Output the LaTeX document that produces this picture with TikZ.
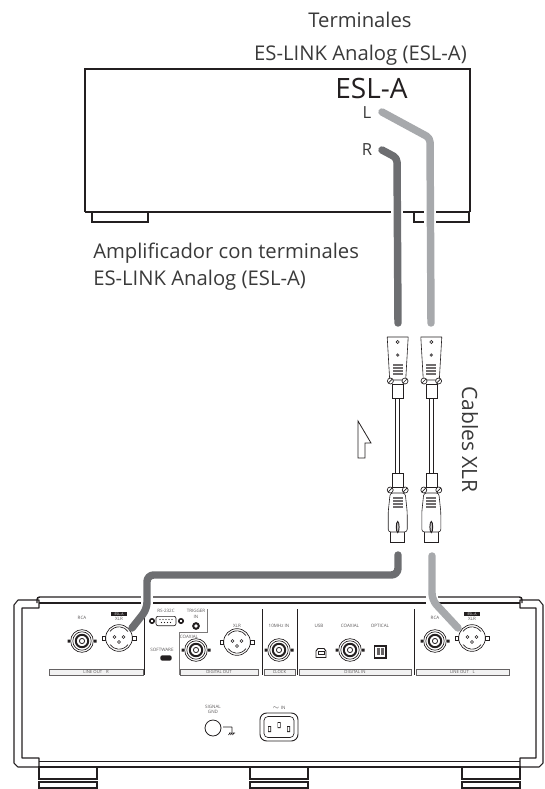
\documentclass[tikz,border=0pt]{standalone}
\usepackage{fontspec}
\setmainfont{Open Sans}
\definecolor{ink}{HTML}{231F20}
\definecolor{txt}{HTML}{3A3A3A}
\definecolor{cabledark}{HTML}{6D6E71}
\definecolor{cablelight}{HTML}{A7A9AC}
\tikzset{
  paneltext/.style={inner sep=0pt,text=ink!75,font=\fontsize{3.4}{4}\selectfont},
  bigtext/.style={inner sep=0pt,anchor=base,text=txt,font=\fontsize{15.2}{18}\selectfont},
  cable/.style={line width=5.6pt,line cap=round,line join=round,rounded corners=3pt},
  halo/.style={line width=8.4pt,white},
  line/.style={draw=ink,line width=0.45pt},
  heavy/.style={draw=ink,line width=1.1pt},
  stripbox/.style={draw=ink!70,line width=0.4pt,fill=ink!6,inner sep=0pt,minimum height=4.2pt,text=ink!75,font=\fontsize{3.2}{4}\selectfont}
}
\newcommand{\coaxjack}[3]{\node[circle,draw=ink,line width=0.5pt,minimum size=17pt,inner sep=0pt] (#3) at (#1,#2) {};
\draw[ink,line width=0.5pt] (#1,#2) circle (9.2);
\draw[ink,line width=1.5pt] (#1,#2) circle (6.2);
\draw[ink,line width=0.6pt] (#1,#2) circle (2.6);
\fill[ink] (#1-14.5,#2-1.5) rectangle (#1-12,#2+1.5) (#1+12,#2-1.5) rectangle (#1+14.5,#2+1.5);}
\newcommand{\xlrjack}[3]{\node[circle,draw=ink,line width=0.5pt,minimum size=20pt,inner sep=0pt] (#3) at (#1,#2) {};
\draw[ink,line width=0.5pt] (#1-9,#2-6.5) arc (215:325:11) (#1+9,#2+6.5) arc (35:145:11);
\draw[ink,line width=0.5pt] (#1-13.5,#2-2) rectangle (#1-17,#2+2) (#1+13.5,#2-2) rectangle (#1+17,#2+2);
\draw[ink,line width=0.5pt] (#1-4.5,#2-1) circle (1.5) (#1+4.5,#2-1) circle (1.5) (#1,#2+4) circle (1.5);}
\newcommand{\esltag}[2]{\node[fill=ink,text=white,inner sep=0pt,minimum width=12.5pt,minimum height=3pt,font=\fontsize{2.6}{3}\selectfont] (#2) at (#1,614) {ESL-A};}
\newcommand{\louvre}[1]{\fill[ink!65] (-5,#1) rectangle (5,#1+11);
\draw[white,line width=0.45pt] (-5,#1+2.5) -- (5,#1+2.5) (-5,#1+5.5) -- (5,#1+5.5) (-5,#1+8.5) -- (5,#1+8.5);}
\newcommand{\screw}[2]{\draw[ink,fill=white,line width=0.5pt] (#1,#2) circle (3);\draw[ink,line width=0.5pt] (#1-2,#2+2) -- (#1+2,#2-2);}
\newcommand{\xlrlead}[1]{\begin{scope}[shift={(#1,0)}]
% upper plug
\draw[line,line join=round] (-10.5,337) -- (10.5,337) -- (8,380) -- (-8,380) -- cycle;
\draw[line] (0,342) circle (1.6);
\fill[ink!75] (0,355) circle (1.8);
\louvre{364}
\draw[line] (-5.5,384) rectangle (5.5,398);
\screw{-7.3}{381}\screw{7.3}{381}
% lead
\draw[line,fill=white] (-2,398) rectangle (2,473);
% lower plug
\draw[line] (-5.5,473) rectangle (5.5,487);
\draw[line,fill=white] (-7,532) -- (-7,542) -- (7,542) -- (7,532);
\draw[line,fill=white,rounded corners=2pt] (-7.5,493) -- (-9.5,512) -- (-9.5,532) -- (9.5,532) -- (9.5,512) -- (7.5,493) -- cycle;
\louvre{497}
\screw{-7.5}{490}\screw{7.5}{490}
\draw[ink,fill=ink!25,line width=0.7pt] (0,527) ellipse (1.4 and 5.5);
\end{scope}}
\begin{document}
\begin{tikzpicture}[x=0.75pt,y=-0.75pt]
\useasboundingbox (0,0) rectangle (544,789);
% captions
\node[bigtext] (captop) at (360,27) {Terminales};
\node[bigtext] (capesl) at (360.5,60) {ES-LINK Analog (ESL-A)};
\node[bigtext,anchor=base west] (capamp) at (93,258) {Amplificador con terminales};
\node[bigtext,anchor=base west] (capamptwo) at (93,285) {ES-LINK Analog (ESL-A)};
\node[bigtext,anchor=center,rotate=-90,font=\fontsize{15.8}{18}\selectfont] (capxlr) at (470,439.5) {Cables XLR};
% amplifier
\draw[heavy] (85,212) -- (85,69) -- (470,69) -- (470,212);
\draw[heavy] (85,212) -- (470,212);
\draw[line,line width=0.8pt] (92,212) -- (92,222) -- (148,222) -- (148,212);
\draw[line,line width=0.8pt] (414,212) -- (414,222) -- (469,222) -- (469,212);
\node[inner sep=0pt,anchor=base,text=ink,font=\fontsize{21}{24}\selectfont] (esltitle) at (371.5,98) {ESL-A};
\node[inner sep=0pt,anchor=base,text=txt,font=\fontsize{12.5}{14}\selectfont] (lblL) at (367,118) {L};
\node[inner sep=0pt,anchor=base,text=txt,font=\fontsize{12.5}{14}\selectfont] (lblR) at (367,155) {R};
\coordinate (termL) at (382,112);
\coordinate (termR) at (382,150);
% player
\draw[heavy,rounded corners=2pt] (37,603) -- (37,597) -- (522,597) -- (522,603);
\draw[heavy] (39,603) -- (520,603);
\draw[line,line width=0.7pt] (39,761) -- (520,761);
\draw[heavy] (39,767) -- (520,767);
\draw[line,line width=0.8pt,line join=round] (39,608) -- (39,600) -- (18,600) -- (14,605) -- (14,763) -- (18,767) -- (39,767) -- (39,758) -- (22,758) -- (22,608) -- cycle;
\draw[line,line width=0.8pt,line join=round] (520,608) -- (520,600) -- (539,600) -- (543,605) -- (543,763) -- (539,767) -- (520,767) -- (520,758) -- (536,758) -- (536,608) -- cycle;
% feet
\foreach \footx in {39,250,462}{
\draw[line,line width=0.8pt] (\footx,767) rectangle (\footx+58,779);
\draw[line,line width=0.8pt] (\footx,782) rectangle (\footx+58,788);
\draw[line] (\footx+10,782) -- (\footx+48,782);}
% dividers
\draw[line,line width=0.6pt] (144,610) -- (144,675);
\draw[line,line width=0.6pt] (262,609) -- (262,675);
\draw[line,line width=0.6pt] (297,609) -- (297,675);
\draw[line,line width=0.6pt] (414,609) -- (414,675);
\draw[draw=ink!60,line width=0.4pt] (207,609) -- (207,632) -- (179,632) -- (179,675);
% strips
\node[stripbox,minimum width=70.5pt] (stripR) at (96,672) {LINE OUT\hspace{2pt} R};
\node[stripbox,minimum width=58.5pt] (stripdout) at (219,672) {DIGITAL OUT};
\node[stripbox,minimum width=23pt] (stripclk) at (279.5,672) {CLOCK};
\node[stripbox,minimum width=84pt] (stripdin) at (355,672) {DIGITAL IN};
\node[stripbox,minimum width=69.5pt] (stripL) at (462.5,672) {LINE OUT\hspace{2pt} L};
% line out R
\node[paneltext] (txtrcaR) at (82,618) {RCA};
\node[paneltext] (txtxlrR) at (119,619) {XLR};
\esltag{119}{tagR}
\coaxjack{82}{641}{rcaR}
\xlrjack{119}{638}{xlrR}
% serial, trigger, software
\node[paneltext] (txtrs) at (166,611) {RS-232C};
\node[draw=ink,line width=0.5pt,fill=white,rounded corners=1.5pt,minimum width=15pt,minimum height=7pt,inner sep=0pt] (rs) at (166,621) {};
\foreach \dotx in {160,163,166,169,172}{\fill[ink] (\dotx,619.5) circle (0.6);}
\foreach \dotx in {161.5,164.5,167.5,170.5}{\fill[ink] (\dotx,622.5) circle (0.6);}
\draw[ink,line width=1.2pt] (152,621) circle (2.2) (181,621) circle (2.2);
\node[paneltext] (txttrig) at (196,611) {TRIGGER};
\node[paneltext] (txtin) at (196,617) {IN};
\draw[ink,line width=1.5pt] (196,626) circle (2.8);
\node[paneltext] (txtsoft) at (162,650) {SOFTWARE};
\node[fill=ink,rounded corners=1.5pt,minimum width=8.5pt,minimum height=4pt,inner sep=0pt] (softport) at (166,658) {};
% digital out
\node[paneltext] (txtcoaxout) at (189,637) {COAXIAL};
\coaxjack{196}{650}{coaxout}
\node[paneltext] (txtxlrout) at (237,626) {XLR};
\xlrjack{237}{642}{xlrout}
% clock
\node[paneltext] (txtclk) at (279,626) {10MHz IN};
\coaxjack{279}{650}{clkin}
% digital in
\node[paneltext] (txtusb) at (319,626) {USB};
\draw[ink,line width=0.7pt,fill=white] (316,657.5) -- (316,651) -- (318,648.5) -- (324,648.5) -- (326,651) -- (326,657.5) -- cycle;
\draw[ink,line width=0.4pt] (318,651.5) rectangle (324,654);
\node[paneltext] (txtcoaxin) at (350,626) {COAXIAL};
\coaxjack{350}{650}{coaxin}
\node[paneltext] (txtopt) at (380,626) {OPTICAL};
\draw[ink,line width=0.8pt] (374.5,646) rectangle (386,658);
\fill[ink!70] (377,648) rectangle (383.5,655);
\draw[white,line width=0.4pt] (380.2,648) -- (380.2,655);
% line out L
\node[paneltext] (txtrcaL) at (435,618) {RCA};
\node[paneltext] (txtxlrL) at (472,619) {XLR};
\esltag{472}{tagL}
\coaxjack{435}{641}{rcaL}
\xlrjack{472}{638}{xlrL}
% ground and inlet
\node[paneltext,align=center] (txtgnd) at (213,709.5) {SIGNAL\\[-0.6pt]GND};
\node[circle,draw=ink,line width=0.6pt,minimum size=12pt,inner sep=0pt] (gnd) at (213,728) {};
\draw[ink,line width=0.5pt] (223,727) -- (232,727) (232,727) -- (232,732) (229,733) -- (235,733) (230,733) -- (228.5,735) (232,733) -- (230.5,735) (234,733) -- (232.5,735);
\node[paneltext] (txtac) at (279,707.5) {$\sim$ IN};
\draw[ink,line width=0.7pt,rounded corners=5pt] (260,713) rectangle (298,741);
\draw[ink,line width=0.5pt,rounded corners=3pt] (264,716.5) rectangle (294,737.5);
\fill[ink] (268,726) rectangle (271,732) (277.5,722) rectangle (280.5,728) (287,726) rectangle (290,732);
\fill[white] (268.7,727) rectangle (270.3,731) (278.2,723) rectangle (279.8,727) (287.7,727) rectangle (289.3,731);
% leads
\xlrlead{397.7}
\xlrlead{431.3}
\draw[line,line width=0.6pt] (358,421) -- (371,443) -- (365,443) -- (365,458) -- (358,458) -- cycle;
% cables
\coordinate (plugRtop) at (398,323);
\coordinate (plugLtop) at (431,323);
\coordinate (plugRout) at (398,555);
\coordinate (plugLout) at (432,556);
\coordinate (pinR) at (132,628);
\coordinate (pinL) at (458,628);
\draw[halo] (397,205) -- (397,228) (430,205) -- (430,228) (432,590) -- (432,607) (147,590) -- (147,607);
\draw[cable,cablelight] (termL) -- (430,138) -- (plugLtop);
\draw[cable,cabledark] (termR) -- (397,158) -- (plugRtop);
\draw[cable,rounded corners=5pt,cabledark] (plugRout) -- (398,575) -- (147,575) -- (147,609) -- (pinR);
\draw[cable,rounded corners=5pt,cablelight] (plugLout) -- (432,600) -- (pinL);
\end{tikzpicture}
\end{document}
